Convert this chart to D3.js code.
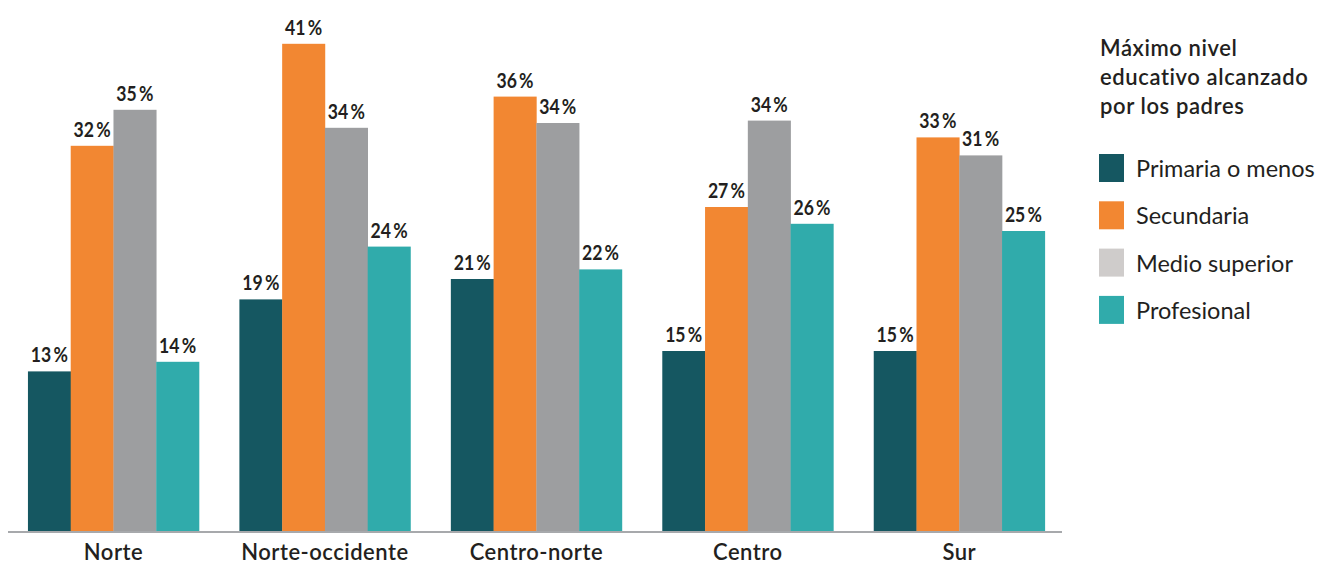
<!DOCTYPE html>
<html><head><meta charset="utf-8">
<script src="https://cdn.jsdelivr.net/npm/d3@7"></script>
<style>
html,body{margin:0;padding:0;background:#fff;}
svg{display:block;font-family:Lato,"Noto Sans",sans-serif;}
</style></head>
<body>
<svg id="chart" width="1319" height="564"></svg>
<script>
const categories = ["Norte", "Norte-occidente", "Centro-norte", "Centro", "Sur"];
const seriesNames = ["Primaria o menos", "Secundaria", "Medio superior", "Profesional"];
const primaria = [13.3, 19.3, 21.0, 15.0, 15.0];
const secundaria = [32.1, 40.6, 36.2, 27.0, 32.8];
const medioSuperior = [35.1, 33.6, 34.0, 34.2, 31.3];
const profesional = [14.1, 23.7, 21.8, 25.6, 25.0];
const barColors = ["#155761", "#f28732", "#9d9ea0", "#30abab"];
const legendColors = ["#155761", "#f28732", "#cfcccb", "#30abab"];
const legendTitle = ["Máximo nivel", "educativo alcanzado", "por los padres"];

const series = [primaria, secundaria, medioSuperior, profesional];
const svg = d3.select("#chart");
const baseY = 531;

const x0 = d3.scaleBand().domain(categories).range([7.75, 1065]).paddingInner(0.191).paddingOuter(0.0955);
const x1 = d3.scaleBand().domain(seriesNames).range([0, x0.bandwidth()]).padding(0);
const y = d3.scaleLinear().domain([0, 40]).range([baseY, baseY - 480]);

const groups = svg.append("g").selectAll("g").data(categories).join("g")
  .attr("transform", d => `translate(${x0(d)},0)`);

groups.each(function(cat, ci) {
  const g = d3.select(this);
  const vals = seriesNames.map((s, si) => ({s, si, v: series[si][ci]}));
  g.selectAll("rect").data(vals).join("rect")
    .attr("x", d => x1(d.s))
    .attr("y", d => y(d.v))
    .attr("width", x1.bandwidth() + 0.3)
    .attr("height", d => baseY - y(d.v))
    .attr("fill", d => barColors[d.si]);
  g.selectAll("text").data(vals).join("text")
    .attr("transform", d => `translate(${x1(d.s) + x1.bandwidth() / 2},${y(d.v) - 9}) scale(0.84,1)`)
    .attr("text-anchor", "middle")
    .attr("font-size", 21)
    .attr("font-weight", "bold")
    .attr("fill", "#231f20")
    .text(d => Math.round(d.v) + "\u2009%");
});

// axis
const xAxis = d3.axisBottom(x0).tickSize(0).tickPadding(0);
const ax = svg.append("g").attr("transform", `translate(0,${baseY})`).call(xAxis);
ax.select(".domain").remove();
ax.append("line").attr("x1", 8).attr("x2", 1062).attr("y1", 1).attr("y2", 1)
  .attr("stroke", "#a7a9ac").attr("stroke-width", 2);
ax.selectAll(".tick text")
  .attr("y", 29).attr("dy", 0)
  .attr("font-family", "Lato, sans-serif")
  .attr("font-size", 22).attr("font-weight", 600)
  .attr("letter-spacing", "0.5")
  .attr("fill", "#231f20");

// legend
const lg = svg.append("g");
lg.selectAll("text.t").data(legendTitle).join("text").attr("class", "t")
  .attr("x", 1100).attr("y", (d, i) => 56 + i * 29)
  .attr("font-size", 22).attr("font-weight", 600).attr("letter-spacing", "0.6")
  .attr("fill", "#231f20")
  .text(d => d);
const items = lg.selectAll("g.item").data(seriesNames).join("g").attr("class", "item")
  .attr("transform", (d, i) => `translate(1099,${154 + i * 47.3})`);
items.append("rect").attr("width", 25).attr("height", 28).attr("fill", (d, i) => legendColors[i]);
items.append("text").attr("x", 37).attr("y", 23)
  .attr("font-size", 23.5).attr("fill", "#231f20").text(d => d);
</script>
</body></html>
